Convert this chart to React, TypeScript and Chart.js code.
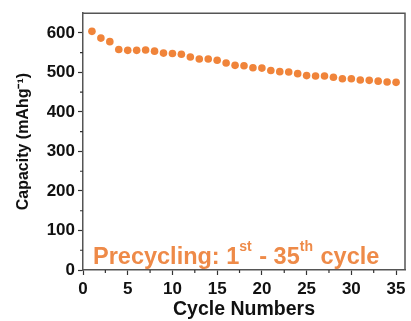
import React, { useEffect, useRef } from "react";
import { Chart, registerables } from "chart.js";

Chart.register(...registerables);

const cycles: number[] = Array.from({ length: 35 }, (_, i) => i + 1);
const capacity: number[] = [
  604, 587, 578, 558, 556, 556, 557, 554, 549, 548,
  546, 539, 534, 534, 531, 524, 518, 517, 512, 511,
  505, 502, 501, 497, 492, 491, 491, 488, 484, 484,
  481, 480, 478, 476, 475,
];
const xTicks: number[] = [0, 5, 10, 15, 20, 25, 30, 35];
const yTicks: number[] = [0, 100, 200, 300, 400, 500, 600];
const xMinor: number[] = [2.5, 7.5, 12.5, 17.5, 22.5, 27.5, 32.5];
const yMinor: number[] = [50, 150, 250, 350, 450, 550];

const ORANGE = "#F0843A";
const TEXT_ORANGE = "#EE8A48";
const FONT = "'Liberation Sans', Arial, sans-serif";

const framePlugin = {
  id: "frame",
  afterDraw(chart: any) {
    const { ctx, chartArea } = chart;
    const xs = chart.scales.x;
    const ys = chart.scales.y;
    ctx.save();
    ctx.strokeStyle = "#555";
    ctx.lineWidth = 1.5;
    ctx.beginPath();
    ctx.moveTo(chartArea.left, chartArea.top);
    ctx.lineTo(chartArea.right, chartArea.top);
    ctx.lineTo(chartArea.right, chartArea.bottom);
    ctx.stroke();
    ctx.strokeStyle = "#333";
    ctx.lineWidth = 1.2;
    ctx.beginPath();
    xMinor.forEach((v) => {
      const px = xs.getPixelForValue(v);
      ctx.moveTo(px, chartArea.bottom);
      ctx.lineTo(px, chartArea.bottom + 3);
    });
    yMinor.forEach((v) => {
      const py = ys.getPixelForValue(v);
      ctx.moveTo(chartArea.left, py);
      ctx.lineTo(chartArea.left - 3, py);
    });
    ctx.stroke();
    ctx.fillStyle = TEXT_ORANGE;
    ctx.textBaseline = "alphabetic";
    ctx.textAlign = "left";
    const big = `bold 23.5px ${FONT}`;
    const small = `bold 14px ${FONT}`;
    const parts: [string, boolean][] = [
      ["Precycling: 1", false],
      ["st", true],
      [" - 35", false],
      ["th", true],
      [" cycle", false],
    ];
    let x = chartArea.left + 10;
    const base = chartArea.bottom - 6;
    parts.forEach(([t, sup]) => {
      ctx.font = sup ? small : big;
      ctx.fillText(t, x, sup ? base - 13 : base);
      x += ctx.measureText(t).width + (sup ? 1 : 0);
    });
    ctx.restore();
  },
};

export default function App() {
  const ref = useRef<HTMLCanvasElement | null>(null);
  useEffect(() => {
    document.body.style.margin = "0";
    const canvas = ref.current!;
    const chart = new Chart(canvas, {
      type: "scatter",
      data: {
        datasets: [
          {
            data: cycles.map((c, i) => ({ x: c, y: capacity[i] })),
            backgroundColor: ORANGE,
            borderColor: ORANGE,
            pointRadius: 3.8,
            pointBorderWidth: 0,
          },
        ],
      },
      options: {
        animation: false,
        responsive: false,
        devicePixelRatio: 1,
        layout: { padding: { left: 0, top: 8, right: 6, bottom: 0 } },
        plugins: { legend: { display: false }, tooltip: { enabled: false } },
        scales: {
          x: {
            type: "linear",
            min: 0,
            max: 36,
            afterFit: (s: any) => {
              s.height = 51;
            },
            afterBuildTicks: (s: any) => {
              s.ticks = xTicks.map((v) => ({ value: v }));
            },
            ticks: {
              includeBounds: false,
              color: "#111",
              font: { family: FONT, size: 17, weight: "bold" },
              padding: 4,
              maxRotation: 0,
            },
            grid: {
              drawOnChartArea: false,
              drawTicks: true,
              tickLength: 5,
              tickWidth: 1.2,
              tickColor: "#333",
            },
            border: { display: true, color: "#555", width: 1.5 },
            title: {
              display: true,
              text: "Cycle Numbers",
              color: "#111",
              font: { family: FONT, size: 19.5, weight: "bold" },
              padding: { top: 0, bottom: 0 },
            },
          },
          y: {
            type: "linear",
            min: 0,
            max: 650,
            afterFit: (s: any) => {
              s.width = 83;
            },
            afterBuildTicks: (s: any) => {
              s.ticks = yTicks.map((v) => ({ value: v }));
            },
            ticks: {
              includeBounds: false,
              color: "#111",
              font: { family: FONT, size: 17, weight: "bold" },
              padding: 3,
            },
            grid: {
              drawOnChartArea: false,
              drawTicks: true,
              tickLength: 5,
              tickWidth: 1.2,
              tickColor: "#333",
            },
            border: { display: true, color: "#555", width: 1.5 },
            title: {
              display: true,
              text: "Capacity (mAhg\u207B\u00B9)",
              color: "#111",
              font: { family: FONT, size: 16, weight: "bold" },
              padding: { top: 14, bottom: 0 },
            },
          },
        },
      },
      plugins: [framePlugin],
    } as any);
    return () => chart.destroy();
  }, []);
  return (
    <div style={{ position: "absolute", left: 0, top: 0 }}>
      <canvas ref={ref} width={411} height={321} style={{ display: "block" }} />
    </div>
  );
}
